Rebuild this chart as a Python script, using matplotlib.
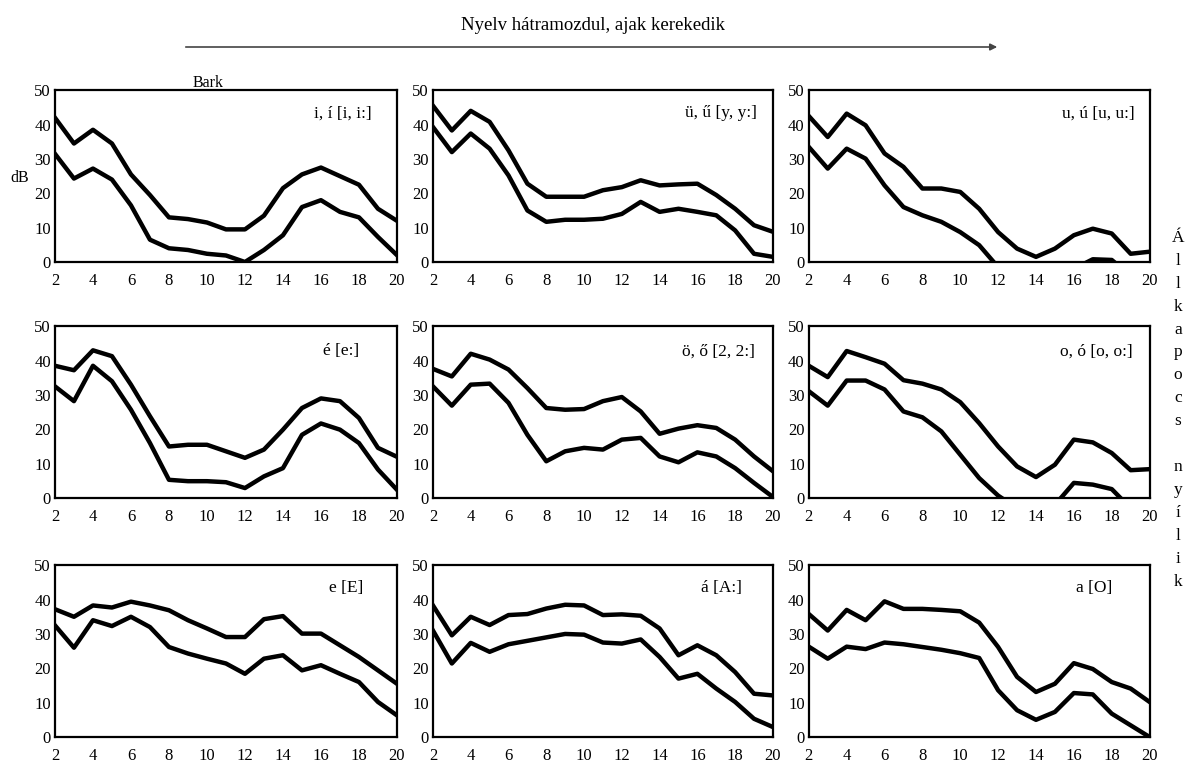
import matplotlib
matplotlib.use('Agg')
import matplotlib.pyplot as plt
from matplotlib.patches import FancyArrowPatch

plt.rcParams['font.family'] = ['Liberation Serif', 'DejaVu Serif']

# Bark-skála (x tengely)
bark = list(range(2, 21))

# felső / alsó görbe minden magánhangzóra (dB)
i_upper = [42, 34.5, 38.5, 34.5, 25.5, 19.5, 13, 12.5, 11.5, 9.5, 9.5, 13.5, 21.5, 25.5, 27.5, 25, 22.5, 15.5, 12]
i_lower = [31.5, 24.3, 27.2, 24, 16.5, 6.5, 4, 3.5, 2.4, 1.9, 0, 3.5, 7.8, 16, 18, 14.6, 13, 7.3, 2]
uu_upper = [45.5, 38.3, 44, 40.8, 32.5, 22.8, 19, 19, 19, 20.9, 21.8, 23.8, 22.3, 22.6, 22.8, 19.5, 15.5, 10.7, 8.8]
uu_lower = [39.3, 32, 37.4, 33, 25.2, 15, 11.7, 12.3, 12.3, 12.6, 14, 17.5, 14.6, 15.5, 14.6, 13.6, 9.2, 2.4, 1.5]
u_upper = [42.5, 36.4, 43.2, 39.8, 31.6, 27.7, 21.4, 21.4, 20.4, 15.5, 8.7, 3.9, 1.5, 3.9, 7.8, 9.7, 8.3, 2.4, 3]
u_lower = [33.5, 27.2, 33, 30.1, 22.3, 16, 13.6, 11.7, 8.7, 4.9, -1.5, -5, -8, -6, -2, 0.8, 0.6, -4, -5]
ee_upper = [38.5, 37.2, 43, 41.3, 33, 23.8, 15, 15.5, 15.5, 13.6, 11.7, 14.1, 19.9, 26.2, 29, 28.2, 23.3, 14.6, 12]
ee_lower = [32.5, 28.2, 38.5, 34, 25.7, 16, 5.3, 4.9, 4.9, 4.6, 2.9, 6.3, 8.7, 18.4, 21.7, 19.9, 16, 8.3, 2.4]
oo_upper = [37.6, 35.4, 42, 40.3, 37.4, 32, 26.2, 25.7, 25.9, 28.2, 29.4, 25.2, 18.7, 20.2, 21.2, 20.4, 17, 12.1, 7.8]
oo_lower = [32.5, 26.9, 33, 33.3, 27.7, 18.4, 10.7, 13.6, 14.6, 14.1, 17, 17.5, 12.1, 10.4, 13.3, 12.1, 8.7, 4.4, 0.3]
o_upper = [38.5, 35.2, 42.8, 41, 39.1, 34.3, 33.3, 31.6, 27.9, 21.8, 15, 9.2, 6.1, 9.7, 17, 16.2, 13.1, 8.1, 8.4]
o_lower = [31.1, 26.9, 34.2, 34.2, 31.6, 25.2, 23.5, 19.4, 12.6, 5.8, 0.7, -3, -6, -2, 4.4, 3.9, 2.6, -3, -5]
e_upper = [37.2, 35, 38.3, 37.7, 39.4, 38.3, 36.9, 34, 31.6, 29.1, 29.1, 34.3, 35.2, 30.1, 30.1, 26.7, 23.3, 19.4, 15.5]
e_lower = [32.5, 26, 34, 32.3, 35, 32, 26.2, 24.3, 22.8, 21.4, 18.4, 22.8, 23.8, 19.4, 20.9, 18.4, 16, 10.2, 6.3]
aa_upper = [38.3, 29.6, 35, 32.6, 35.5, 35.8, 37.4, 38.5, 38.3, 35.5, 35.7, 35.3, 31.6, 23.8, 26.7, 23.8, 18.9, 12.6, 12.1]
aa_lower = [31, 21.4, 27.4, 24.8, 27, 28, 29, 30, 29.8, 27.5, 27.2, 28.4, 23.3, 17, 18.4, 14.1, 10.2, 5.3, 2.9]
a_upper = [35.8, 31, 37, 34, 39.5, 37.3, 37.3, 37, 36.6, 33.3, 26.2, 17.5, 13.1, 15.5, 21.5, 19.8, 16, 14.1, 10.2]
a_lower = [26.3, 22.8, 26.3, 25.6, 27.5, 27, 26.2, 25.4, 24.4, 23, 13.6, 7.8, 5, 7.3, 12.8, 12.4, 6.8, 3.4, 0]

labels = ['i, í [i, i:]', 'ü, ű [y, y:]', 'u, ú [u, u:]',
          'é [e:]', 'ö, ő [2, 2:]', 'o, ó [o, o:]',
          'e [E]', 'á [A:]', 'a [O]']

series = [(i_upper, i_lower), (uu_upper, uu_lower), (u_upper, u_lower),
          (ee_upper, ee_lower), (oo_upper, oo_lower), (o_upper, o_lower),
          (e_upper, e_lower), (aa_upper, aa_lower), (a_upper, a_lower)]

# panelek helye (ábra-arányban)
lefts = [0.0458, 0.3608, 0.674]
widths = [0.285, 0.2833, 0.284]
bottoms = [0.6575, 0.349, 0.0366]
height = 0.2245
label_x = [0.927, 0.953, 0.956, 0.89, 0.947, 0.95, 0.9, 0.91, 0.89]
label_y = [0.866, 0.866, 0.866, 0.854, 0.854, 0.854, 0.866, 0.866, 0.866]

fig = plt.figure(figsize=(12, 7.65), dpi=100)

for k in range(9):
    r, c = divmod(k, 3)
    ax = fig.add_axes([lefts[c], bottoms[r], widths[c], height])
    up, lo = series[k]
    ax.plot(bark, up, color='black', lw=3.2, solid_joinstyle='round')
    ax.plot(bark, lo, color='black', lw=3.2, solid_joinstyle='round')
    ax.set_xlim(2, 20)
    ax.set_ylim(0, 50)
    ax.set_xticks(range(2, 21, 2))
    ax.set_yticks(range(0, 51, 10))
    ax.tick_params(length=0, labelsize=12)
    ax.tick_params(axis='x', pad=8)
    ax.tick_params(axis='y', pad=3)
    for s in ax.spines.values():
        s.set_linewidth(1.6)
    ax.text(label_x[k], label_y[k], labels[k], transform=ax.transAxes,
            ha='right', va='center', fontsize=12.5)

# feliratok
fig.text(593 / 1200, 1 - 25 / 765, 'Nyelv hátramozdul, ajak kerekedik',
         ha='center', va='center', fontsize=13.5)
arrow = FancyArrowPatch((183 / 1200, 1 - 47 / 765), (1000 / 1200, 1 - 47 / 765),
                        transform=fig.transFigure, arrowstyle='-|>',
                        color='#444444', lw=1.2, mutation_scale=10)
fig.patches.append(arrow)
fig.text(208 / 1200, 1 - 83 / 765, 'Bark', ha='center', va='center', fontsize=11.5)
fig.text(20 / 1200, 1 - 178 / 765, 'dB', ha='center', va='center', fontsize=11.5)

side = 'Állkapocs nyílik'
for n, ch in enumerate(side):
    fig.text(1178 / 1200, 1 - (238 + n * 22.9) / 765, ch,
             ha='center', va='center', fontsize=12.5)

fig.savefig('out.png', dpi=100)
